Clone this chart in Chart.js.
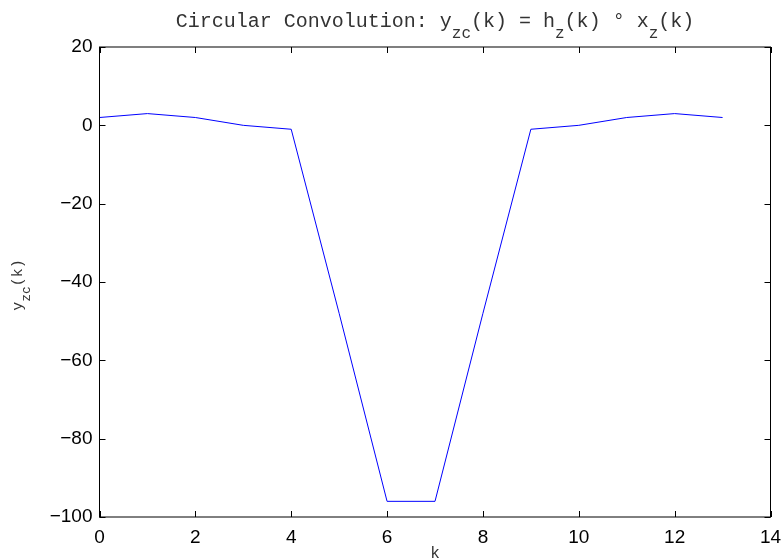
<!DOCTYPE html>
<html>
<head>
<meta charset="utf-8">
<script src="https://cdn.jsdelivr.net/npm/chart.js@4.4.1/dist/chart.umd.min.js"></script>
<style>
  html, body { margin: 0; padding: 0; background: #fff; }
  canvas { display: block; }
</style>
</head>
<body>
<canvas id="chart" width="784" height="560"></canvas>
<script>
const k = [0, 1, 2, 3, 4, 5, 6, 7, 8, 9, 10, 11, 12, 13];
const yzc = [2, 3, 2, 0, -1, -48, -96, -96, -48, -1, 0, 2, 3, 2];
const xTicks = [0, 2, 4, 6, 8, 10, 12, 14];
const yTicks = [-100, -80, -60, -40, -20, 0, 20];

const tickFont = { family: "'Liberation Sans', Arial, sans-serif", size: 19 };
const mono = "'Liberation Mono', 'Courier New', monospace";

// width of a row of text pieces, some of them subscripts
function runsWidth(ctx, runs, big, small) {
  let w = 0;
  runs.forEach(r => {
    ctx.font = (r[1] ? small : big) + "px " + mono;
    w += ctx.measureText(r[0]).width;
  });
  return w;
}

function drawRuns(ctx, runs, x, y, big, small, drop) {
  runs.forEach(r => {
    ctx.font = (r[1] ? small : big) + "px " + mono;
    ctx.fillText(r[0], x, r[1] ? y + drop : y);
    x += ctx.measureText(r[0]).width;
  });
}

const framePlugin = {
  id: "frame",
  afterDatasetsDraw(chart) {
    const { ctx, chartArea: a, scales } = chart;
    ctx.save();
    ctx.strokeStyle = "#000";
    ctx.lineWidth = 1;
    ctx.strokeRect(a.left, a.top, a.right - a.left, a.bottom - a.top);
    ctx.beginPath();
    const len = 6;
    scales.x.ticks.forEach(t => {
      const px = Math.round(scales.x.getPixelForValue(t.value)) + 0.5;
      ctx.moveTo(px, a.bottom); ctx.lineTo(px, a.bottom - len);
      ctx.moveTo(px, a.top); ctx.lineTo(px, a.top + len);
    });
    scales.y.ticks.forEach(t => {
      const py = Math.round(scales.y.getPixelForValue(t.value)) + 0.5;
      ctx.moveTo(a.left, py); ctx.lineTo(a.left + len, py);
      ctx.moveTo(a.right, py); ctx.lineTo(a.right - len, py);
    });
    ctx.stroke();

    // title
    const cx = (a.left + a.right) / 2;
    const runs = [
      ["Circular Convolution: y", 0], ["zc", 1], ["(k) = h", 0], ["z", 1],
      ["(k) \u00b0 x", 0], ["z", 1], ["(k)", 0]
    ];
    ctx.fillStyle = "#333";
    ctx.textBaseline = "alphabetic";
    ctx.textAlign = "left";
    drawRuns(ctx, runs, cx - runsWidth(ctx, runs, 20, 16) / 2, 27, 20, 16, 11);

    // x label
    ctx.font = "16px " + mono;
    ctx.textAlign = "center";
    ctx.fillText("k", cx, 558);

    // y label, rotated
    ctx.translate(22, 285);
    ctx.rotate(-Math.PI / 2);
    ctx.textAlign = "left";
    const yr = [["y", 0], ["zc", 1], ["(k)", 0]];
    drawRuns(ctx, yr, -runsWidth(ctx, yr, 15, 13) / 2, 0, 15, 13, 8);
    ctx.restore();
  }
};

new Chart(document.getElementById("chart"), {
  type: "line",
  data: {
    datasets: [{
      data: k.map((v, i) => ({ x: v, y: yzc[i] })),
      borderColor: "#0000ff",
      borderWidth: 1,
      pointRadius: 0,
      tension: 0,
      fill: false
    }]
  },
  options: {
    responsive: false,
    animation: false,
    layout: { padding: { top: 47, right: 13.5, left: 0, bottom: 0 } },
    plugins: { legend: { display: false }, tooltip: { enabled: false } },
    scales: {
      x: {
        type: "linear",
        min: 0, max: 14,
        afterBuildTicks: s => { s.ticks = xTicks.map(v => ({ value: v })); },
        afterFit: s => { s.height = 43; s.paddingLeft = 0; s.paddingRight = 0; },
        grid: { display: false, drawTicks: false },
        border: { display: false },
        ticks: { font: tickFont, color: "#000", padding: 9, maxRotation: 0 }
      },
      y: {
        type: "linear",
        min: -100, max: 20,
        afterBuildTicks: s => { s.ticks = yTicks.map(v => ({ value: v })); },
        afterFit: s => { s.width = 99.5; s.paddingTop = 0; s.paddingBottom = 0; },
        grid: { display: false, drawTicks: false },
        border: { display: false },
        ticks: {
          font: tickFont, color: "#000", padding: 7,
          callback: v => String(v).replace("-", "\u2212")
        }
      }
    }
  },
  plugins: [framePlugin]
});
</script>
</body>
</html>
